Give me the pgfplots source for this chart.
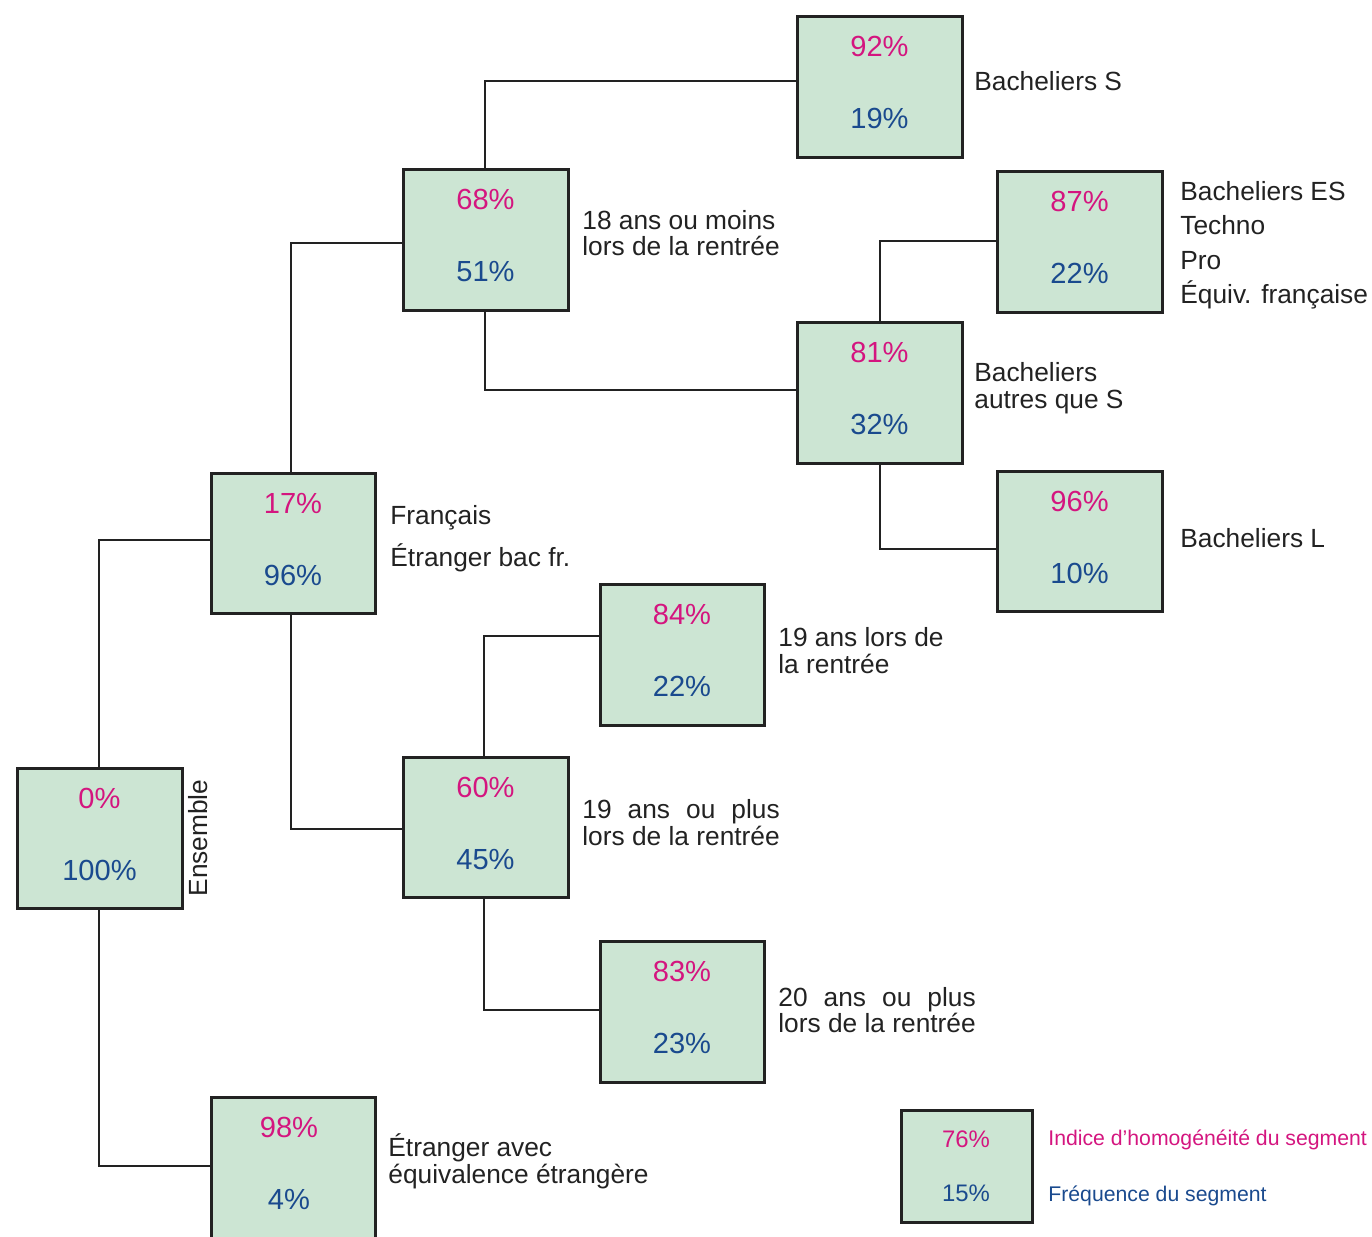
\documentclass[border=0pt]{standalone}
\usepackage{pgfplots}
\pgfplotsset{compat=1.18}
\usepackage{fontspec}
\setmainfont{Liberation Sans}
\definecolor{boxfill}{HTML}{CCE5D3}
\definecolor{mag}{HTML}{D4157F}
\definecolor{blu}{HTML}{1A4A8E}
\definecolor{txt}{HTML}{222222}
\newlength\lw
\newcommand\numfont{\fontsize{14.6}{16}\selectfont}
\newcommand\labfont{\fontsize{13.2}{15}\selectfont}
% box: x0 y0 x1 y1 top bottom
\newcommand\nums[6]{%
  \node[anchor=base, inner sep=0, text=mag, font=\numfont] at (axis cs:{(#1+#3)/2},{#2+40}) {#5\%};
  \node[anchor=base, inner sep=0, text=blu, font=\numfont] at (axis cs:{(#1+#3)/2},{#2+112}) {#6\%};
}
\newcommand\tbox[6]{%
  \addplot[draw=txt, fill=boxfill, line width=1.5bp] coordinates {(#1,#2)(#3,#2)(#3,#4)(#1,#4)} -- cycle;
  \nums{#1}{#2}{#3}{#4}{#5}{#6}
}
\newcommand\lab[3]{\node[anchor=base west, inner sep=0, text=txt, font=\labfont] at (axis cs:#1,#2) {#3};}
\begin{document}
\begin{tikzpicture}
\begin{axis}[name=ax, scale only axis, width=686bp, height=618.5bp,
  xmin=0, xmax=1372, ymin=0, ymax=1237, y dir=reverse,
  hide axis, clip mode=individual]
% connectors
\addplot[txt, line width=1bp] coordinates {(99,768)(99,540)(211,540)};
\addplot[txt, line width=1bp] coordinates {(99,908)(99,1166)(211,1166)};
\addplot[txt, line width=1bp] coordinates {(291,473)(291,243)(403,243)};
\addplot[txt, line width=1bp] coordinates {(291,613)(291,829)(403,829)};
\addplot[txt, line width=1bp] coordinates {(485,169)(485,81)(797,81)};
\addplot[txt, line width=1bp] coordinates {(485,310)(485,390)(797,390)};
\addplot[txt, line width=1bp] coordinates {(880,322)(880,241)(997,241)};
\addplot[txt, line width=1bp] coordinates {(880,463)(880,549)(997,549)};
\addplot[txt, line width=1bp] coordinates {(484,757)(484,636)(600,636)};
\addplot[txt, line width=1bp] coordinates {(484,897)(484,1010)(600,1010)};
% boxes
\tbox{17}{768}{182}{908}{0}{100}
\tbox{211}{473}{375}{613}{17}{96}
\tbox{403}{169}{568}{310}{68}{51}
\tbox{797}{16}{962}{157}{92}{19}
\tbox{797}{322}{962}{463}{81}{32}
\tbox{997}{171}{1162}{312}{87}{22}
\tbox{997}{471}{1162}{611}{96}{10}
\tbox{403}{757}{568}{897}{60}{45}
\tbox{600}{584}{764}{725}{84}{22}
\tbox{600}{941}{764}{1082}{83}{23}
% bottom box, cut by the picture edge
\addplot[draw=none, fill=boxfill] coordinates {(211,1097)(375,1097)(375,1237)(211,1237)} -- cycle;
\addplot[txt, line width=1.5bp] coordinates {(211,1237)(211,1097)(375,1097)(375,1237)};
\nums{211}{1097}{367}{1237}{98}{4}
% labels
\node[rotate=90, inner sep=0, text=txt, font=\labfont] at (axis cs:198,838) {Ensemble};
\lab{390}{524.5}{Français}
\lab{390}{566.5}{Étranger bac fr.}
\lab{582}{229.5}{18 ans ou moins}
\lab{582}{255.5}{lors de la rentrée}
\lab{974}{90}{Bacheliers S}
\lab{974}{381.5}{Bacheliers}
\lab{974}{408.5}{autres que S}
\lab{1180}{200.5}{Bacheliers ES}
\lab{1180}{234.5}{Techno}
\lab{1180}{269.5}{Pro}
\lab{1180}{303.5}{Équiv. française}
\lab{1180}{547.5}{Bacheliers L}
\lab{778}{646.5}{19 ans lors de}
\lab{778}{673.5}{la rentrée}
\lab{582}{818.5}{\settowidth{\lw}{lors de la rentrée}\makebox[\lw][s]{19 ans ou plus}}
\lab{582}{845.5}{lors de la rentrée}
\lab{778}{1006.5}{\settowidth{\lw}{lors de la rentrée}\makebox[\lw][s]{20 ans ou plus}}
\lab{778}{1032.5}{lors de la rentrée}
\lab{388}{1156.5}{Étranger avec}
\lab{388}{1183.5}{équivalence étrangère}
% legend
\addplot[draw=txt, fill=boxfill, line width=1.5bp] coordinates {(901,1110)(1032,1110)(1032,1222)(901,1222)} -- cycle;
\node[anchor=base, inner sep=0, text=mag, font=\fontsize{12}{14}\selectfont] at (axis cs:966,1147.5) {76\%};
\node[anchor=base, inner sep=0, text=blu, font=\fontsize{12}{14}\selectfont] at (axis cs:966,1201.5) {15\%};
\node[anchor=base west, inner sep=0, text=mag, font=\fontsize{10.65}{12}\selectfont] at (axis cs:1048,1145.5) {Indice d’homogénéité du segment};
\node[anchor=base west, inner sep=0, text=blu, font=\fontsize{10.65}{12}\selectfont] at (axis cs:1048,1201.5) {Fréquence du segment};
\end{axis}
\pgfresetboundingbox
\path (ax.south west) rectangle (ax.north east);
\end{tikzpicture}
\end{document}
